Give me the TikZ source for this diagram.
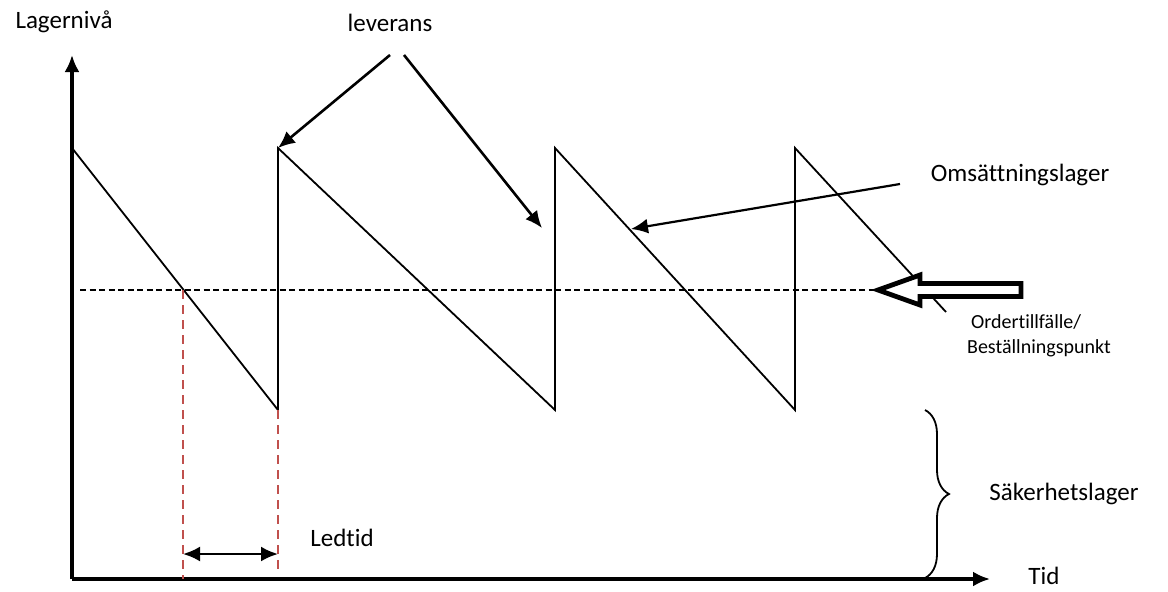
\documentclass[tikz,border=0pt]{standalone}
\usepackage{fontspec}
\setmainfont{Carlito}[Ligatures=NoCommon]
\usetikzlibrary{arrows.meta, positioning, decorations.pathreplacing}
\definecolor{rotstrich}{RGB}{192,80,77}

\begin{document}
\begin{tikzpicture}[x=1pt, y=-1pt,
				>={Latex[length=17pt,width=15pt]},   %Pfeilspitzen
				lbl/.style={font=\fontsize{25}{30}\selectfont, inner sep=0pt},
				klein/.style={font=\fontsize{20}{25}\selectfont, inner sep=0pt, align=left},
				zahn/.style={line width=1.8pt, line join=miter},
				rotlinie/.style={rotstrich, line width=2pt, dash pattern=on 9pt off 6pt}]
				\useasboundingbox (0,0) rectangle (1168,592);
				% Achsen zeichnen
				\coordinate (O) at (72,579);
				\coordinate (yend) at (72,55);
				\coordinate (xend) at (990,579);
				\draw[->, line width=3.2pt] (O) -- (yend);
				\draw[->, line width=3.2pt] (O) -- (xend);
				\node[lbl] (ylab) at (64,22) {Lagernivå};
				\node[lbl] (xlab) at (1044,576) {Tid};
				% Saegezahn
				\coordinate (s0) at (72,148);
				\coordinate (b1) at (278,410);
				\coordinate (t1) at (278,148);
				\coordinate (b2) at (555,410);
				\coordinate (t2) at (555,148);
				\coordinate (b3) at (795,410);
				\coordinate (t3) at (795,148);
				\coordinate (s4) at (946,312);
				\draw[zahn] (s0) -- (b1) -- (t1) -- (b2) -- (t2) -- (b3) -- (t3) -- (s4);
				% Bestellpunkt
				\coordinate (bp0) at (80,290);
				\coordinate (bp1) at (878,290);
				\draw[line width=1.5pt, dash pattern=on 6pt off 3.5pt] (bp0) -- (bp1);
				\draw[line width=4.8pt, fill=white, line join=miter]
					(bp1) -- ++(42,-15) -- ++(0,8.5) -- ++(101,0) -- ++(0,13) -- ++(-101,0) -- ++(0,8.5) -- cycle;
				\node[klein] (order) at (1039,336) {\hspace{4pt}Ordertillfälle/\\Beställningspunkt};
				% Ledtid
				\coordinate (r1o) at (183,290);
				\coordinate (r1u) at (183,579);
				\coordinate (r2u) at (278,571);
				\draw[rotlinie] (r1o) -- (r1u);
				\draw[rotlinie] (b1) -- (r2u);
				\coordinate (l1) at (183,554);
				\coordinate (l2) at (278,554);
				\draw[<->, line width=2.4pt] (l1) -- (l2);
				\node[lbl] (ledtid) at (342,538) {Ledtid};
				% leverans
				\node[lbl] (lev) at (390,23) {leverans};
				\coordinate (lev1) at (390,55);
				\coordinate (lev2) at (404,55);
				\coordinate (ziel2) at (542,228);
				\draw[->, line width=2.6pt] (lev1) -- (t1);
				\draw[->, line width=2.6pt] (lev2) -- (ziel2);
				% Omsaettningslager
				\node[lbl] (oms) at (1020,175) {Omsättningslager};
				\coordinate (om1) at (900,184);
				\coordinate (om2) at (631,229);
				\draw[->, line width=2.2pt] (om1) -- (om2);
				% Saekerhetslager
				\draw[line width=1.8pt, decorate, decoration={brace, amplitude=24pt}] (925,410) -- (925,578);
				\node[lbl] (saek) at (1064,494) {Säkerhetslager};
			\end{tikzpicture}
\end{document}
